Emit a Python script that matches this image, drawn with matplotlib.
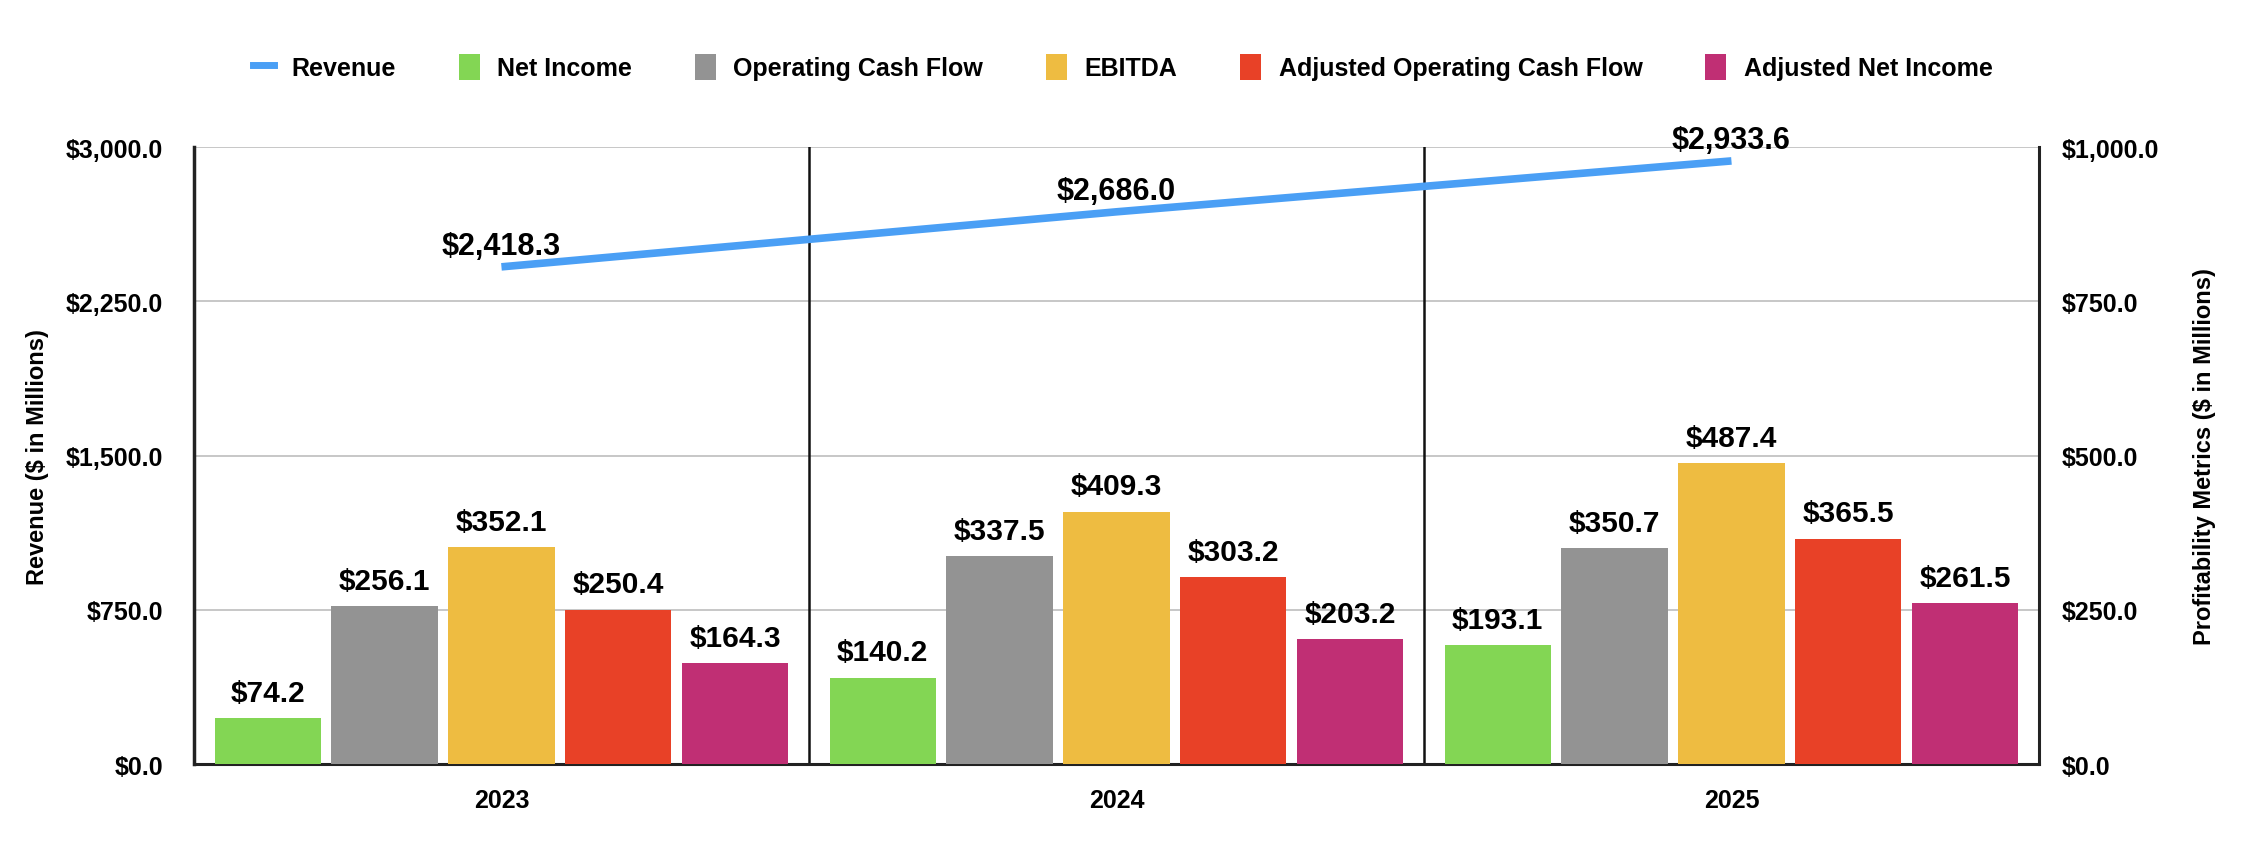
import matplotlib
matplotlib.use("Agg")
import matplotlib.pyplot as plt
from matplotlib.lines import Line2D
from matplotlib.patches import Patch
import numpy as np

plt.rcParams['font.family'] = ['Liberation Sans', 'DejaVu Sans']
plt.rcParams['font.weight'] = 'bold'

years = ["2023", "2024", "2025"]
revenue = [2418.3, 2686.0, 2933.6]
series_names = ["Net Income", "Operating Cash Flow", "EBITDA",
                "Adjusted Operating Cash Flow", "Adjusted Net Income"]
net_income = [74.2, 140.2, 193.1]
operating_cf = [256.1, 337.5, 350.7]
ebitda = [352.1, 409.3, 487.4]
adj_operating_cf = [250.4, 303.2, 365.5]
adj_net_income = [164.3, 203.2, 261.5]
bar_series = [net_income, operating_cf, ebitda, adj_operating_cf, adj_net_income]
colors = ["#83D654", "#939393", "#EEBC41", "#E84127", "#C02F74"]
line_color = "#4A9FF5"

left_ticks = [0, 750, 1500, 2250, 3000]
right_ticks = [0, 250, 500, 750, 1000]

fig = plt.figure(figsize=(22.5, 8.62), dpi=100)
ax = fig.add_axes([0.0862, 0.1125, 0.8200, 0.7155])
ax2 = ax.twinx()

x = np.arange(len(years))
ax.set_xlim(-0.5, 2.5)
ax.set_ylim(0, 3000)
ax2.set_ylim(0, 1000)

# grid
ax.set_yticks(left_ticks)
ax.yaxis.grid(True, color="#BDBDBD", linewidth=1.2)
ax.set_axisbelow(True)

# dividers
for d in [0.5, 1.5]:
    ax.axvline(d, color="#111111", linewidth=1.8, zorder=1)

# bars
stride = 0.19
width = 0.173
for i, (vals, c) in enumerate(zip(bar_series, colors)):
    offs = (i - 2) * stride
    ax2.bar(x + offs, vals, width=width, color=c, zorder=2)
    for xi, v in zip(x + offs, vals):
        ax2.annotate(f"${v:,.1f}", (xi, v), xytext=(0, 8), textcoords="offset points",
                     ha="center", va="bottom", fontsize=21.5, fontweight="bold")

# revenue line
ax.plot(x, revenue, color=line_color, linewidth=5.5, solid_capstyle="butt", zorder=3)
for xi, v in zip(x, revenue):
    ax.annotate(f"${v:,.1f}", (xi, v), xytext=(0, 4), textcoords="offset points",
                ha="center", va="bottom", fontsize=22, fontweight="bold")

# ticks
ax.set_xticks(x)
ax.set_xticklabels(years, fontsize=18, fontweight="bold")
ax.tick_params(axis="x", length=0, pad=17)
ax.set_yticklabels([f"${t:,.1f}" for t in left_ticks], fontsize=18, fontweight="bold")
ax.tick_params(axis="y", length=0, pad=22)
ax2.set_yticks(right_ticks)
ax2.set_yticklabels([f"${t:,.1f}" for t in right_ticks], fontsize=18, fontweight="bold")
ax2.tick_params(axis="y", length=0, pad=16)

ax.set_ylabel("Revenue ($ in Millions)", fontsize=17, fontweight="bold")
ax.yaxis.set_label_coords(-0.0786, 0.5)
ax2.set_ylabel("Profitability Metrics ($ in Millions)", fontsize=17, fontweight="bold")
ax2.yaxis.set_label_coords(1.0835, 0.5)

# spines
for a in (ax, ax2):
    a.spines["top"].set_visible(False)
ax.spines["left"].set_linewidth(2.5)
ax.spines["left"].set_color("#222222")
ax.spines["bottom"].set_linewidth(2.2)
ax.spines["bottom"].set_color("#222222")
ax2.spines["right"].set_linewidth(2.2)
ax2.spines["right"].set_color("#222222")
ax2.spines["left"].set_visible(False)
ax2.spines["bottom"].set_visible(False)
ax.spines["right"].set_visible(False)

# legend
handles = [Line2D([0], [0], color=line_color, linewidth=5)]
handles += [Patch(facecolor=c, edgecolor="none") for c in colors]
labels = ["Revenue"] + series_names
fig.legend(handles, labels, loc="center", bbox_to_anchor=(0.499, 0.921), ncol=6,
           frameon=False, handlelength=0.85, handleheight=1.2,
           handletextpad=0.7, columnspacing=2.5,
           prop={"weight": "bold", "size": 18})

fig.savefig("out.png", dpi=100)
